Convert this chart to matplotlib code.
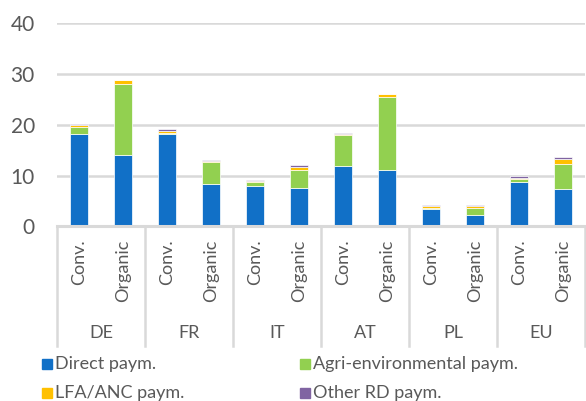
import matplotlib
matplotlib.use("Agg")
from matplotlib import pyplot as plt
import numpy as np

plt.rcParams['font.family'] = ['Lato', 'DejaVu Sans']

countries = ["DE", "FR", "IT", "AT", "PL", "EU"]
farm_types = ["Conv.", "Organic"]
direct = [18.3, 14.1, 18.3, 8.4, 8.0, 7.6, 12.0, 11.1, 3.5, 2.2, 8.8, 7.3]
agri_env = [1.3, 13.9, 0.2, 4.2, 0.8, 3.6, 6.0, 14.3, 0.1, 1.5, 0.5, 5.1]
lfa = [0.4, 0.8, 0.3, 0.2, 0.2, 0.6, 0.3, 0.6, 0.4, 0.3, 0.3, 0.9]
other_rd = [0.1, 0.1, 0.3, 0.2, 0.2, 0.4, 0.2, 0.05, 0.15, 0.2, 0.3, 0.3]

series = [("Direct paym.", direct, "#1170c7"),
          ("Agri-environmental paym.", agri_env, "#92d050"),
          ("LFA/ANC paym.", lfa, "#ffc000"),
          ("Other RD paym.", other_rd, "#8064a2")]

txt = "#595959"
grid = "#d9d9d9"

fig = plt.figure(figsize=(5.86, 4.01), dpi=100)
ax = fig.add_axes([57/586, 1-226.5/401, 528/586, (226.5-23.3)/401])

xs = np.arange(len(direct))
bottom = np.zeros(len(direct))
for name, vals, col in series:
    ax.bar(xs, vals, 0.41, bottom=bottom, color=col, edgecolor="white", linewidth=0.5, zorder=3)
    bottom += np.array(vals)

ax.set_xlim(-0.5, 11.5)
ax.set_ylim(0, 40)
ax.set_yticks([0, 10, 20, 30, 40])
ax.tick_params(axis="y", length=0, pad=16, labelsize=15, labelcolor=txt)
ax.set_xticks([])
ax.yaxis.grid(True, color=grid, linewidth=1.8, zorder=0)
for s in ax.spines.values():
    s.set_visible(False)
ax.axhline(0, color=grid, linewidth=2.2, zorder=4, clip_on=False)

# category labels and separators
for i in range(len(direct)):
    ax.text(xs[i], -2.6, farm_types[i % 2], rotation=90, ha="center", va="top",
            fontsize=13, color=txt, clip_on=False)
for g, c in enumerate(countries):
    ax.text(2*g + 0.5, -20.9, c, ha="center", va="center", fontsize=13, color=txt, clip_on=False)
for b in np.arange(-0.5, 12, 2):
    ax.plot([b, b], [0, -23.5], color=grid, linewidth=1.8, clip_on=False)

# legend
leg_pos = [(42, 364), (300, 364), (42, 393), (300, 393)]
for (name, vals, col), (lx, ly) in zip(series, leg_pos):
    fig.patches.append(plt.Rectangle((lx/586, 1-(ly+5)/401), 10/586, 10/401,
                                     transform=fig.transFigure, color=col))
    fig.text((lx+13)/586, 1-ly/401, name, ha="left", va="center", fontsize=13, color=txt)

fig.savefig("out.png", dpi=100)
